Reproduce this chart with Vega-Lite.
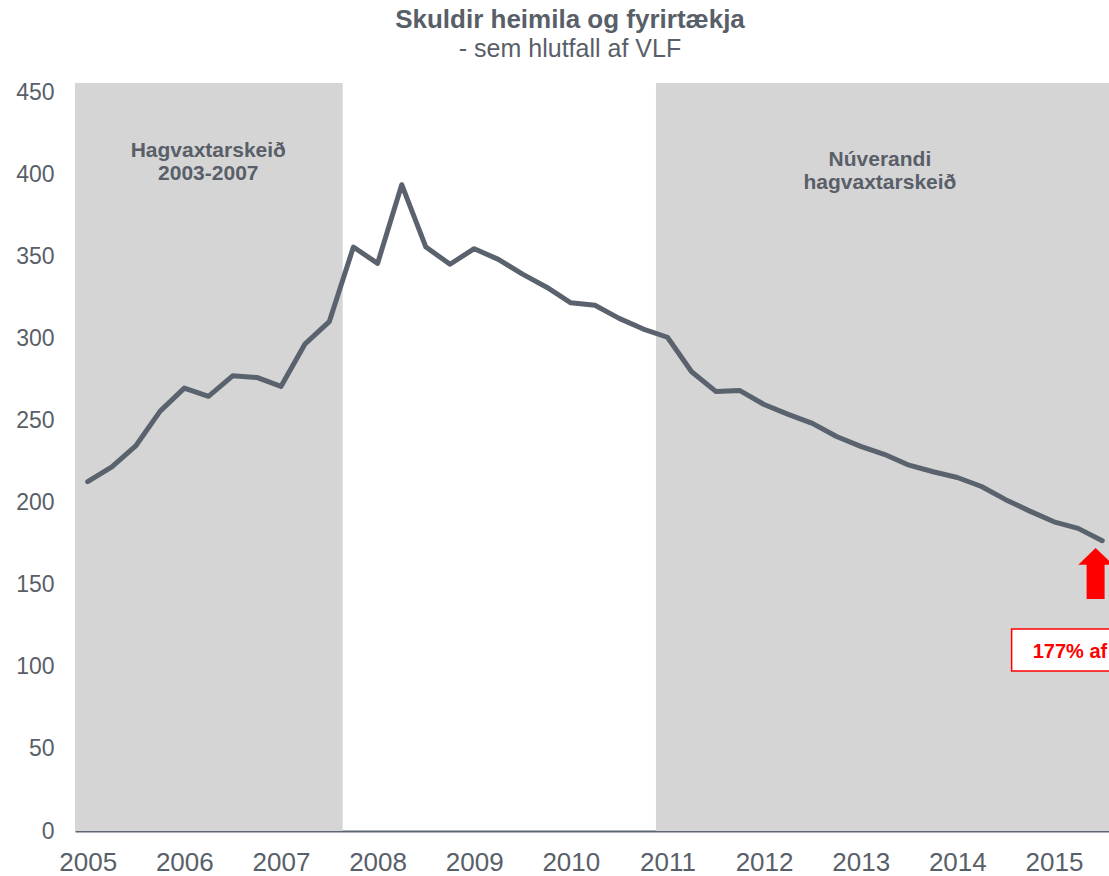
{
  "$schema": "https://vega.github.io/schema/vega-lite/v6.json",
  "width": 1034,
  "height": 748,
  "autosize": {"type": "none"},
  "padding": {"left": 75, "top": 83, "right": 0, "bottom": 45},
  "background": "white",
  "config": {"view": {"stroke": null}, "font": "Liberation Sans"},
  "title": {
    "text": "Skuldir heimila og fyrirtækja",
    "subtitle": "- sem hlutfall af VLF",
    "fontSize": 26,
    "fontWeight": "bold",
    "subtitleFontSize": 25,
    "color": "#595f69",
    "subtitleColor": "#595f69",
    "font": "Liberation Sans",
    "subtitleFont": "Liberation Sans",
    "anchor": "middle",
    "frame": "group",
    "dx": -22,
    "offset": 20,
    "subtitlePadding": 4
  },
  "datasets": {
    "skuldir": [
      {"t": 2005.00, "v": 213},
      {"t": 2005.25, "v": 222},
      {"t": 2005.50, "v": 235},
      {"t": 2005.75, "v": 256},
      {"t": 2006.00, "v": 270},
      {"t": 2006.25, "v": 265},
      {"t": 2006.50, "v": 277.5},
      {"t": 2006.75, "v": 276.5},
      {"t": 2007.00, "v": 271},
      {"t": 2007.25, "v": 297},
      {"t": 2007.50, "v": 310.5},
      {"t": 2007.75, "v": 356},
      {"t": 2008.00, "v": 346},
      {"t": 2008.25, "v": 394},
      {"t": 2008.50, "v": 356},
      {"t": 2008.75, "v": 345.5},
      {"t": 2009.00, "v": 355},
      {"t": 2009.25, "v": 348.5},
      {"t": 2009.50, "v": 339.5},
      {"t": 2009.75, "v": 331.5},
      {"t": 2010.00, "v": 322},
      {"t": 2010.25, "v": 320.5},
      {"t": 2010.50, "v": 312.5},
      {"t": 2010.75, "v": 306},
      {"t": 2011.00, "v": 301},
      {"t": 2011.25, "v": 280},
      {"t": 2011.50, "v": 268},
      {"t": 2011.75, "v": 268.5},
      {"t": 2012.00, "v": 260},
      {"t": 2012.25, "v": 254},
      {"t": 2012.50, "v": 248.5},
      {"t": 2012.75, "v": 240.5},
      {"t": 2013.00, "v": 234.5},
      {"t": 2013.25, "v": 229.5},
      {"t": 2013.50, "v": 223},
      {"t": 2013.75, "v": 219},
      {"t": 2014.00, "v": 215.5},
      {"t": 2014.25, "v": 210},
      {"t": 2014.50, "v": 202},
      {"t": 2014.75, "v": 195},
      {"t": 2015.00, "v": 188.5},
      {"t": 2015.25, "v": 184.5},
      {"t": 2015.50, "v": 177}
    ],
    "skeid": [
      {"fra": 2004.8686, "til": 2007.639},
      {"fra": 2010.881, "til": 2015.5696}
    ],
    "merki": [
      {"t": 2006.248, "v": 410.9, "texti": "Hagvaxtarskeið\n2003-2007"},
      {"t": 2013.199, "v": 405.4, "texti": "Núverandi\nhagvaxtarskeið"}
    ],
    "or": [
      {"t": 2015.431, "v": 157}
    ],
    "kassi": [
      {"fra": 2014.562, "til": 2016.2, "efri": 123.1, "nedri": 97.5}
    ],
    "kassatexti": [
      {"t": 2014.78, "v": 105.6, "texti": "177% af"}
    ]
  },
  "layer": [
    {
      "data": {"name": "skeid"},
      "mark": {"type": "rect", "color": "#d5d5d5"},
      "encoding": {
        "x": {
          "field": "fra",
          "type": "quantitative",
          "scale": {"domain": [2004.8686, 2015.5696], "nice": false, "zero": false},
          "axis": {
            "values": [2005, 2006, 2007, 2008, 2009, 2010, 2011, 2012, 2013, 2014, 2015],
            "format": "d",
            "title": null,
            "grid": false,
            "ticks": false,
            "labelFontSize": 26,
            "labelFont": "Liberation Sans",
            "labelColor": "#595f69",
            "labelPadding": 18,
            "labelFlush": false,
            "labelOverlap": false,
            "domainColor": "#5d6570",
            "domainWidth": 2
          }
        },
        "x2": {"field": "til"},
        "y": {
          "datum": 456,
          "type": "quantitative",
          "scale": {"domain": [0, 456], "nice": false},
          "axis": {
            "values": [0, 50, 100, 150, 200, 250, 300, 350, 400, 450],
            "title": null,
            "grid": false,
            "ticks": false,
            "domain": false,
            "labelFontSize": 23,
            "labelFont": "Liberation Sans",
            "labelColor": "#595f69",
            "labelPadding": 21
          }
        },
        "y2": {"datum": 0}
      }
    },
    {
      "data": {"name": "merki"},
      "mark": {
        "type": "text",
        "align": "center",
        "baseline": "alphabetic",
        "fontSize": 21,
        "fontWeight": "bold",
        "font": "Liberation Sans",
        "color": "#595f69",
        "lineBreak": "\n",
        "lineHeight": 23
      },
      "encoding": {
        "x": {"field": "t", "type": "quantitative"},
        "y": {"field": "v", "type": "quantitative"},
        "text": {"field": "texti"}
      }
    },
    {
      "data": {"name": "skuldir"},
      "mark": {
        "type": "line",
        "color": "#59626d",
        "strokeWidth": 5,
        "strokeCap": "round",
        "strokeJoin": "round"
      },
      "encoding": {
        "x": {"field": "t", "type": "quantitative"},
        "y": {"field": "v", "type": "quantitative"}
      }
    },
    {
      "data": {"name": "or"},
      "mark": {
        "type": "point",
        "shape": "M0,-1 L0.68,-0.345 L0.353,-0.345 L0.353,1 L-0.353,1 L-0.353,-0.345 L-0.68,-0.345 Z",
        "size": 2601,
        "filled": true,
        "color": "#ff0000",
        "opacity": 1
      },
      "encoding": {
        "x": {"field": "t", "type": "quantitative"},
        "y": {"field": "v", "type": "quantitative"}
      }
    },
    {
      "data": {"name": "kassi"},
      "mark": {"type": "rect", "fill": "#ffffff", "stroke": "#ff0000", "strokeWidth": 1.5},
      "encoding": {
        "x": {"field": "fra", "type": "quantitative"},
        "x2": {"field": "til"},
        "y": {"field": "efri", "type": "quantitative"},
        "y2": {"field": "nedri"}
      }
    },
    {
      "data": {"name": "kassatexti"},
      "mark": {
        "type": "text",
        "align": "left",
        "baseline": "alphabetic",
        "fontSize": 20,
        "fontWeight": "bold",
        "font": "Liberation Sans",
        "color": "#ff0000"
      },
      "encoding": {
        "x": {"field": "t", "type": "quantitative"},
        "y": {"field": "v", "type": "quantitative"},
        "text": {"field": "texti"}
      }
    }
  ]
}
